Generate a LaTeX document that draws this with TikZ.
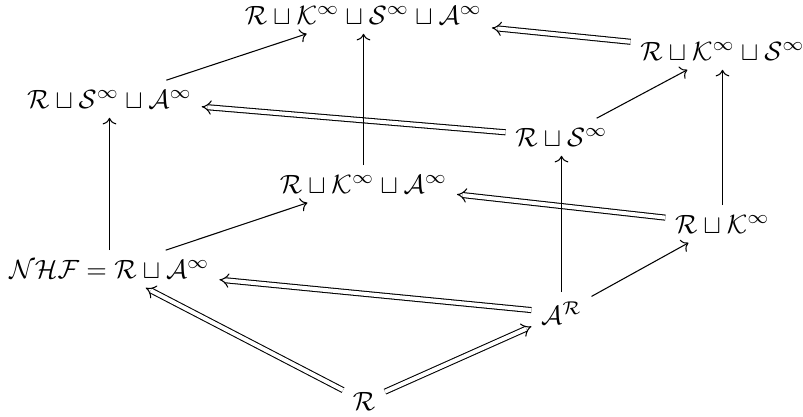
\documentclass[tikz,border=0pt]{standalone}
\usepackage{amsmath}
\usetikzlibrary{arrows.meta}
\tikzset{
  obj/.style={inner sep=3.5pt},
  %
  inc/.style={line width=0.4pt, -{Computer Modern Rightarrow}},
  emb/.style={line width=0.4pt, double, double distance=1.5pt, -{Implies}},
}

\begin{document}
\begin{tikzpicture}[x=0.01331cm, y=-0.01331cm]
\useasboundingbox (0,0) rectangle (803,416);

% ---------------------------------------------------------------- bottom face
\node[obj] (r)   at (364,401) {$\mathcal{R}$};
\node[obj] (nhf) at (109.5,269) {$\mathcal{NHF}=\mathcal{R}\sqcup\mathcal{A}^\infty$};
\node[obj] (ar)  at (561.5,313) {$\mathcal{A}^{\mathcal{R}}$};
\node[obj] (rka) at (363.5,184) {$\mathcal{R}\sqcup\mathcal{K}^\infty\sqcup\mathcal{A}^\infty$};
\node[obj] (rk)  at (722.5,224) {$\mathcal{R}\sqcup\mathcal{K}^\infty$};

% ------------------------------------------------------------------- top face
\node[obj] (rsa) at (109.5,99)  {$\mathcal{R}\sqcup\mathcal{S}^\infty\sqcup\mathcal{A}^\infty$};
\node[obj] (rs)  at (561.5,137) {$\mathcal{R}\sqcup\mathcal{S}^\infty$};
\node[obj] (top) at (363.5,15)  {$\mathcal{R}\sqcup\mathcal{K}^\infty\sqcup\mathcal{S}^\infty\sqcup\mathcal{A}^\infty$};
\node[obj] (rks) at (722.5,51)  {$\mathcal{R}\sqcup\mathcal{K}^\infty\sqcup\mathcal{S}^\infty$};

% ---------------------------------------------------------------- arrows
\draw[emb] (r) -- (nhf);
\draw[emb] (r) -- (ar);
\draw[emb] (ar) -- (nhf);
\draw[emb] (rk) -- (rka);
\draw[emb] (rs) -- (rsa);
\draw[emb] (rks) -- (top);

\draw[inc] (ar) -- (rk);
\draw[inc] (ar) -- (rs);
\draw[inc] (nhf) -- (rsa);
\draw[inc] (nhf) -- (rka);
\draw[inc] (rk) -- (rks);
\draw[inc] (rs) -- (rks);
\draw[inc] (rka) -- (top);
\draw[inc] (rsa) -- (top);

\end{tikzpicture}
\end{document}
